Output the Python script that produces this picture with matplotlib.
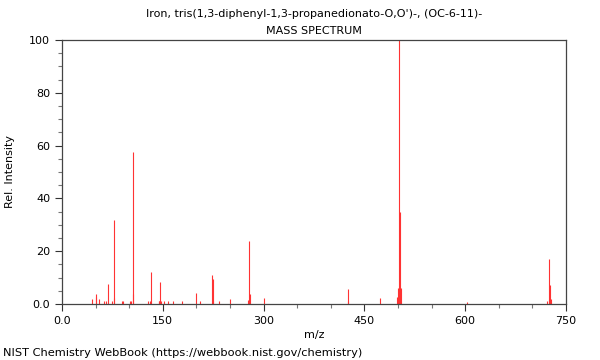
import matplotlib
matplotlib.use("Agg")
import matplotlib.pyplot as plt
from matplotlib.ticker import MultipleLocator, FuncFormatter

# m/z and relative intensity
mz = [44, 50, 51, 55, 63, 65, 69, 75, 77, 78, 89, 91, 101, 102, 105, 106,
      128, 131, 133, 144, 145, 146, 147, 152, 157, 165, 178, 200, 206,
      223, 224, 225, 234, 250, 277, 279, 280, 300, 425, 426, 473,
      499, 500, 501, 502, 503, 504, 603, 722, 724, 725, 726, 727]
intensity = [1.8, 3.7, 2.5, 1.8, 1.0, 1.0, 7.4, 1.0, 32.0, 2.4, 1.0, 1.0, 1.0, 1.0, 57.7, 3.7,
             1.0, 1.0, 12.0, 1.2, 1.2, 8.2, 1.0, 1.0, 1.0, 1.0, 1.0, 4.2, 1.0,
             11.0, 9.6, 1.0, 1.0, 1.8, 1.5, 23.7, 3.7, 2.4, 5.7, 1.0, 2.3,
             2.5, 6.0, 2.0, 100.0, 35.0, 6.0, 0.7, 1.0, 1.5, 17.0, 7.3, 2.0]

title = "Iron, tris(1,3-diphenyl-1,3-propanedionato-O,O')-, (OC-6-11)-\nMASS SPECTRUM"

fig = plt.figure(figsize=(6, 3.6), dpi=100)
ax = fig.add_axes([62/600, 1 - 304/360, 504/600, 264/360])

ax.vlines(mz, 0, intensity, colors="#ff3333", linewidth=0.8)

ax.set_xlim(0, 750)
ax.set_ylim(0, 100)
ax.xaxis.set_major_locator(MultipleLocator(150))
ax.xaxis.set_minor_locator(MultipleLocator(50))
ax.yaxis.set_major_locator(MultipleLocator(20))
ax.yaxis.set_minor_locator(MultipleLocator(5))
fmt = FuncFormatter(lambda v, p: "0.0" if v == 0 else "%d" % v)
ax.xaxis.set_major_formatter(fmt)
ax.yaxis.set_major_formatter(fmt)
ax.tick_params(which="major", length=5, width=0.8, color="#333333", labelsize=8)
ax.tick_params(which="minor", length=3, width=0.8, color="#777777")
for s in ax.spines.values():
    s.set_color("#444444")
    s.set_linewidth(0.9)

ax.set_xlabel("m/z", fontsize=8, labelpad=3)
ax.set_ylabel("Rel. Intensity", fontsize=8, labelpad=10)
ax.set_title(title, fontsize=8, linespacing=1.9, pad=4)
fig.text(3/600, 1 - 353/360, "NIST Chemistry WebBook (https://webbook.nist.gov/chemistry)",
         fontsize=8.2, va="center", ha="left")

fig.savefig("out.png", dpi=100)
